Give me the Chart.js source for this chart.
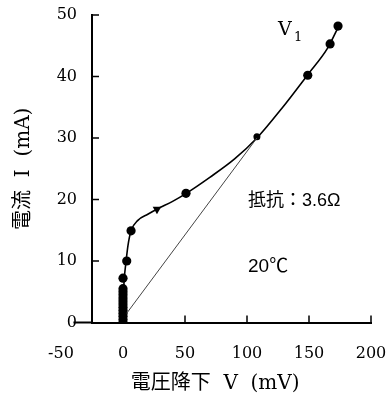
<!DOCTYPE html>
<html>
<head>
<meta charset="utf-8">
<script src="https://cdn.jsdelivr.net/npm/chart.js@4.4.1/dist/chart.umd.min.js"></script>
<style>
  body { margin: 0; background: #fff; }
  #wrap { width: 390px; height: 403px; }
</style>
</head>
<body>
<div id="wrap"><canvas id="ivChart" width="390" height="403"></canvas></div>
<script>
// tick labels
const xTickValues = [-50, 0, 50, 100, 150, 200];
const yTickValues = [0, 10, 20, 30, 40, 50];

// measured points, voltage drop (mV) / current (mA)
const measV = [0, 0, 0, 0, 0, 0, 0, 0, 0, 0, 0, 0, 0, 3, 6.5, 50.8, 149, 167, 173.4];
const measI = [0, 0.5, 1, 1.5, 2, 2.5, 3, 3.5, 4, 4.5, 5, 5.5, 7.2, 10, 14.9, 21.0, 40.2, 45.3, 48.2];

// V1 point on the curve
const v1V = [108];
const v1I = [30.2];

// fitted curve
const curveV = [0, 0.3, 1, 2.5, 4, 6.5, 12, 20, 28, 40, 51, 70, 90, 108, 128, 149, 165, 174];
const curveI = [0, 4, 7, 10, 12.5, 14.9, 16.6, 17.6, 18.5, 19.7, 21, 23.6, 26.6, 30, 34.8, 40.3, 44.6, 48.2];

// straight line to V1
const chordV = [3, 108];
const chordI = [1.5, 30];

// direction arrow on the curve
const arrowV = [27.4];
const arrowI = [18.4];

const toXY = (xs, ys) => xs.map((v, i) => ({ x: v, y: ys[i] }));

const serif = '"DejaVu Serif", "Noto Sans CJK JP", serif';
const sans = '"Liberation Sans", "Noto Sans CJK JP", sans-serif';

// text labels, inward tick marks and the short axis stub left of the y axis
const notesPlugin = {
    id: "notes",
    afterDraw(chart) {
        const { ctx, chartArea, scales: { x, y } } = chart;
        const y0 = y.getPixelForValue(0);
        ctx.save();
        ctx.strokeStyle = "#000";
        ctx.lineWidth = 2;
        ctx.beginPath();
        ctx.moveTo(x.getPixelForValue(-40), y0);
        ctx.lineTo(chartArea.left, y0);
        ctx.stroke();

        ctx.lineWidth = 1.5;
        ctx.beginPath();
        xTickValues.filter(v => v > 0).forEach(v => {
            const px = x.getPixelForValue(v);
            ctx.moveTo(px, y0);
            ctx.lineTo(px, y0 - 7);
        });
        yTickValues.filter(v => v > 0).forEach(v => {
            const py = y.getPixelForValue(v);
            ctx.moveTo(chartArea.left, py);
            ctx.lineTo(chartArea.left + 7, py);
        });
        ctx.stroke();

        ctx.fillStyle = "#000";
        ctx.textBaseline = "alphabetic";
        ctx.textAlign = "left";
        ctx.font = "19px " + serif;
        const vx = x.getPixelForValue(125), vy = y.getPixelForValue(46.7);
        ctx.fillText("V", vx, vy);
        ctx.font = "13px " + serif;
        ctx.fillText("1", vx + 16, vy + 6);

        ctx.textBaseline = "middle";
        ctx.font = "18px " + sans;
        ctx.fillText("抵抗：3.6Ω", x.getPixelForValue(100.8), y.getPixelForValue(19.8));
        ctx.font = "19px " + sans;
        ctx.fillText("20℃", x.getPixelForValue(100.8), y.getPixelForValue(9.1));
        ctx.restore();
    }
};

const ctx = document.getElementById("ivChart").getContext("2d");

new Chart(ctx, {
    type: "scatter",
    data: {
        datasets: [
            {
                label: "chord",
                data: toXY(chordV, chordI),
                showLine: true,
                borderColor: "#444",
                borderWidth: 1,
                pointRadius: 0,
            },
            {
                label: "curve",
                data: toXY(curveV, curveI),
                showLine: true,
                cubicInterpolationMode: "monotone",
                borderColor: "#000",
                borderWidth: 1.6,
                pointRadius: 0,
            },
            {
                label: "measured",
                data: toXY(measV, measI),
                backgroundColor: "#000",
                borderWidth: 0,
                pointRadius: 4.6,
            },
            {
                label: "V1",
                data: toXY(v1V, v1I),
                backgroundColor: "#000",
                borderWidth: 0,
                pointRadius: 3.5,
            },
            {
                label: "arrow",
                data: toXY(arrowV, arrowI),
                pointStyle: "triangle",
                rotation: 60,
                backgroundColor: "#000",
                borderWidth: 0,
                pointRadius: 5,
            },
        ],
    },
    options: {
        responsive: false,
        animation: false,
        layout: { padding: { top: 15, right: 19, bottom: 0, left: 0 } },
        scales: {
            x: {
                type: "linear",
                min: -25,
                max: 200,
                afterBuildTicks: (s) => { s.ticks = xTickValues.map(v => ({ value: v })); },
                afterFit: (s) => {
                    s.height = 80.5;
                    s.paddingLeft = 0;
                    s.paddingRight = 0;
                },
                border: { display: true, color: "#000", width: 2 },
                grid: { display: false },
                ticks: {
                    padding: 14,
                    color: "#000",
                    font: { family: serif, size: 16 },
                },
                title: {
                    display: true,
                    text: "電圧降下  V  (mV)\u3000  ",
                    color: "#000",
                    font: { family: serif, size: 20 },
                    padding: { top: 0, bottom: 7 },
                },
            },
            y: {
                min: 0,
                max: 50,
                afterBuildTicks: (s) => { s.ticks = yTickValues.map(v => ({ value: v })); },
                afterFit: (s) => {
                    s.width = 92;
                    s.paddingTop = 0;
                    s.paddingBottom = 0;
                },
                border: { display: true, color: "#000", width: 2 },
                grid: { display: false },
                ticks: {
                    padding: 7,
                    color: "#000",
                    font: { family: serif, size: 16 },
                },
                title: {
                    display: true,
                    text: "電流  I  (mA)",
                    color: "#000",
                    font: { family: serif, size: 20 },
                    padding: { top: 12, bottom: 0 },
                },
            },
        },
        plugins: {
            legend: { display: false },
            tooltip: { enabled: false },
        },
    },
    plugins: [notesPlugin],
});
</script>
</body>
</html>
